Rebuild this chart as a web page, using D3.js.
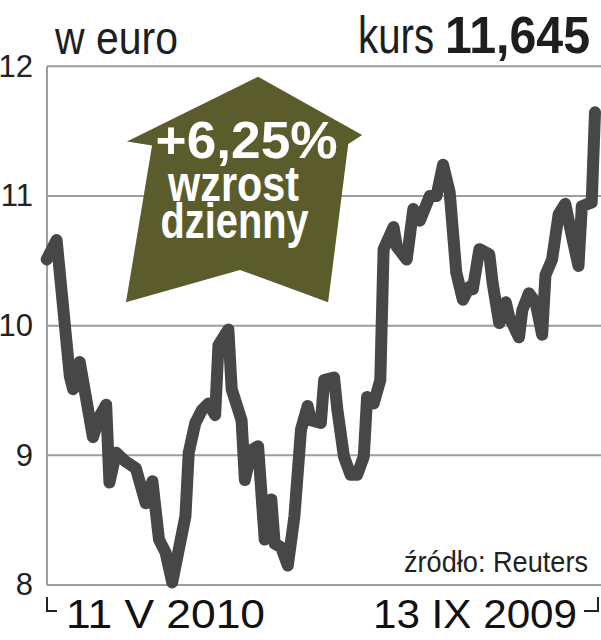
<!DOCTYPE html>
<html>
<head>
<meta charset="utf-8">
<script src="https://cdn.jsdelivr.net/npm/d3@7/dist/d3.min.js"></script>
<style>
  body { margin: 0; background: #fff; }
  svg { display: block; font-family: "Liberation Sans", Arial, sans-serif; }
</style>
</head>
<body>
<svg id="chart" width="601" height="640"></svg>
<script>
// kolejne sesje (od lewej) i kurs w euro
const sessions = [0, 3, 7, 8, 10, 14, 16, 18, 19, 21, 24, 27, 30, 32, 34, 36, 38, 42, 43, 45,
  47, 49, 51, 52, 55, 56, 59, 60, 62, 64, 66, 68, 69, 71, 73, 75, 77, 79, 80, 83,
  84, 87, 88, 90, 92, 94, 96, 97, 99, 101, 102, 105, 106, 109, 111, 113, 116, 118, 120, 122,
  124, 126, 128, 129, 131, 134, 135, 137, 139, 140, 143, 144, 146, 148, 150, 151, 153, 155, 157, 159,
  161, 162, 165, 166];
const kurs = [10.51, 10.66, 9.61, 9.51, 9.72, 9.14, 9.30, 9.39, 8.79, 9.02, 8.95, 8.90, 8.63, 8.80, 8.35, 8.25, 8.02, 8.53, 9.02, 9.25,
  9.35, 9.40, 9.31, 9.85, 9.97, 9.51, 9.27, 8.81, 9.04, 9.07, 8.35, 8.66, 8.32, 8.29, 8.15, 8.53, 9.20, 9.38, 9.27, 9.25,
  9.58, 9.60, 9.35, 8.99, 8.85, 8.85, 8.99, 9.45, 9.40, 9.58, 10.59, 10.76, 10.61, 10.51, 10.90, 10.81, 11.00, 11.00, 11.24, 11.03,
  10.41, 10.20, 10.30, 10.28, 10.59, 10.55, 10.33, 10.02, 10.18, 10.07, 9.91, 10.12, 10.25, 10.18, 9.93, 10.39, 10.51, 10.86, 10.94, 10.69,
  10.46, 10.92, 10.95, 11.645];

const yTicks = [8, 9, 10, 11, 12];
const dateLabels = ['11 V 2010', '13 IX 2009'];
const unitLabel = 'w euro';
const kursLabel = 'kurs';
const kursValue = '11,645';
const sourceLabel = 'źródło: Reuters';

// strzałka z opisem (w jednostkach wykresu: sesja, kurs)
const arrowSessions = [64, 95.5, 91.3, 85.2, 58.5, 24, 31.9, 24.3];
const arrowKurs = [11.92, 11.47, 11.40, 10.18, 10.43, 10.18, 11.39, 11.42];
const arrowLines = ['+6,25%', 'wzrost', 'dzienny'];

const svg = d3.select('#chart');

const x = d3.scaleLinear().domain([0, 166]).range([46.7, 595]);
const y = d3.scaleLinear().domain([8, 12]).range([585, 66.3]);

// siatka
svg.append('g')
  .selectAll('line')
  .data(yTicks)
  .enter()
  .append('line')
  .attr('x1', 47)
  .attr('x2', 601)
  .attr('y1', (d) => y(d))
  .attr('y2', (d) => y(d))
  .attr('stroke', '#9d9d9d')
  .attr('stroke-width', 2);

svg.append('line')
  .attr('x1', 47).attr('x2', 47)
  .attr('y1', y(12)).attr('y2', y(8))
  .attr('stroke', '#9d9d9d')
  .attr('stroke-width', 2);

// opisy osi y
const yAxis = svg.append('g')
  .attr('transform', 'translate(47,0)')
  .call(d3.axisLeft(y).tickValues(yTicks).tickSize(0).tickPadding(14).tickFormat(d3.format('d')));
yAxis.select('.domain').remove();
yAxis.selectAll('text')
  .attr('font-family', '"Liberation Sans", Arial, sans-serif')
  .attr('font-size', 31)
  .attr('fill', '#222');

// strzałka
const arrowPts = arrowSessions.map((s, i) => [x(s), y(arrowKurs[i])]);
svg.append('path')
  .attr('d', 'M' + arrowPts.join('L') + 'Z')
  .attr('fill', '#5a5d2b');

const arrowCx = x(59);
svg.append('text')
  .attr('x', arrowCx + 5).attr('y', 158)
  .attr('text-anchor', 'middle')
  .attr('font-size', 52).attr('font-weight', 'bold')
  .attr('fill', '#fff')
  .attr('textLength', 182).attr('lengthAdjust', 'spacingAndGlyphs')
  .text(arrowLines[0]);
svg.append('text')
  .attr('x', arrowCx - 8).attr('y', 201)
  .attr('text-anchor', 'middle')
  .attr('font-size', 50).attr('font-weight', 'bold')
  .attr('fill', '#fff')
  .attr('textLength', 131).attr('lengthAdjust', 'spacingAndGlyphs')
  .text(arrowLines[1]);
svg.append('text')
  .attr('x', arrowCx - 7).attr('y', 238)
  .attr('text-anchor', 'middle')
  .attr('font-size', 50).attr('font-weight', 'bold')
  .attr('fill', '#fff')
  .attr('textLength', 148).attr('lengthAdjust', 'spacingAndGlyphs')
  .text(arrowLines[2]);

// linia kursu
const line = d3.line()
  .x((d, i) => x(sessions[i]))
  .y((d) => y(d));

svg.append('path')
  .datum(kurs)
  .attr('d', line)
  .attr('fill', 'none')
  .attr('stroke', '#474747')
  .attr('stroke-width', 12)
  .attr('stroke-linejoin', 'round')
  .attr('stroke-linecap', 'round');

// nagłówek
svg.append('text')
  .attr('x', 55).attr('y', 54)
  .attr('font-size', 46)
  .attr('fill', '#1e1e1e')
  .attr('textLength', 123).attr('lengthAdjust', 'spacingAndGlyphs')
  .text(unitLabel);

// "kurs" zwężony przez skalowanie, żeby nie nachodził na wartość
svg.append('text')
  .attr('transform', 'translate(358,53) scale(0.775,1)')
  .attr('font-size', 52)
  .attr('fill', '#1e1e1e')
  .text(kursLabel);

svg.append('text')
  .attr('x', 445).attr('y', 53)
  .attr('font-size', 52).attr('font-weight', 'bold')
  .attr('fill', '#1e1e1e')
  .attr('textLength', 145).attr('lengthAdjust', 'spacingAndGlyphs')
  .text(kursValue);

// źródło
svg.append('text')
  .attr('x', 404).attr('y', 572)
  .attr('font-size', 29)
  .attr('fill', '#222')
  .attr('textLength', 184).attr('lengthAdjust', 'spacingAndGlyphs')
  .text(sourceLabel);

// zakres dat
svg.append('path')
  .attr('d', 'M47,597V611H57M598,597V611H584')
  .attr('fill', 'none')
  .attr('stroke', '#222')
  .attr('stroke-width', 2);

svg.append('text')
  .attr('x', 66).attr('y', 628)
  .attr('font-size', 40)
  .attr('fill', '#111')
  .attr('textLength', 199).attr('lengthAdjust', 'spacingAndGlyphs')
  .text(dateLabels[0]);

svg.append('text')
  .attr('x', 373).attr('y', 628)
  .attr('font-size', 40)
  .attr('fill', '#111')
  .attr('textLength', 204).attr('lengthAdjust', 'spacingAndGlyphs')
  .text(dateLabels[1]);
</script>
</body>
</html>
